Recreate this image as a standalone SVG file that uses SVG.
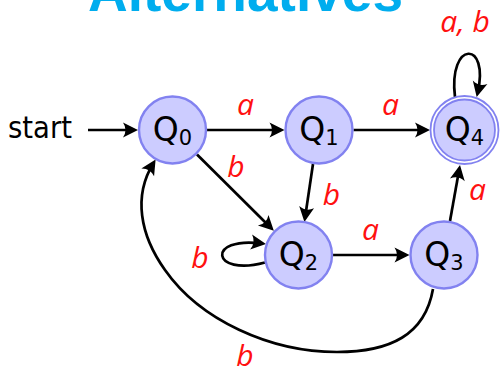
<svg xmlns="http://www.w3.org/2000/svg" width="502" height="372" viewBox="0 0 502 372">
<defs>
<style>
.node{fill:#ccccff;stroke:#8282f0;stroke-width:2.4}
.ring{fill:#ffffff;stroke:#8282f0;stroke-width:1.8}
.inner{fill:#ccccff;stroke:#8282f0;stroke-width:1.8}
.qt{font-family:"DejaVu Sans",sans-serif;font-size:33px;fill:#000;text-anchor:middle}
.sub{font-size:21px}
.edge{fill:none;stroke:#000;stroke-width:2.7}
.lbl{font-family:"Open Sans","DejaVu Sans",sans-serif;font-style:italic;font-size:30px;fill:#ff1010;text-anchor:middle}
</style>
<marker id="arr" markerUnits="userSpaceOnUse" markerWidth="24" markerHeight="24" viewBox="-14 -10 24 20" refX="0" refY="0" orient="auto">
<path d="M4,0 L-11,-7.5 Q-6,0 -11,7.5 Z" fill="#000"/>
</marker>
</defs>
<rect width="502" height="372" fill="#ffffff"/>
<text x="245.5" y="10.5" font-family="Liberation Sans, Arial, sans-serif" font-weight="bold" font-size="55" fill="#00adee" text-anchor="middle" textLength="315" lengthAdjust="spacingAndGlyphs">Alternatives</text>
<g id="connectors">
<path class="edge" d="M88,130 H134" marker-end="url(#arr)"/>
<path class="edge" d="M207,130 H280.5" marker-end="url(#arr)"/>
<path class="edge" d="M353.5,130 H426" marker-end="url(#arr)"/>
<path class="edge" d="M197,154.5 L271,228" marker-end="url(#arr)"/>
<path class="edge" d="M313,164 L305,218" marker-end="url(#arr)"/>
<path class="edge" d="M333,255 H405.5" marker-end="url(#arr)"/>
<path class="edge" d="M450,221 L459.3,169" marker-end="url(#arr)"/>
<path class="edge" d="M455,97 C448,40 490,40 477.6,93" marker-end="url(#arr)"/>
<path class="edge" d="M265,262.5 C211,277 206,236 262,243.5" marker-end="url(#arr)"/>
<path class="edge" d="M433,289 C425,335 390,352 337,352 C270,352 200,320 165,270 C140,235 133,196 153.5,163" marker-end="url(#arr)"/>
<text class="lbl" x="245.5" y="115">a</text>
<text class="lbl" x="390.5" y="115">a</text>
<text class="lbl" x="236" y="177">b</text>
<text class="lbl" x="331.5" y="205">b</text>
<text class="lbl" x="200" y="268">b</text>
<text class="lbl" x="370.5" y="240">a</text>
<text class="lbl" x="477.5" y="200">a</text>
<text class="lbl" x="245" y="366">b</text>
<text class="lbl" x="465" y="32">a, b</text>
</g>
<text x="8" y="138" font-family="DejaVu Sans, sans-serif" font-size="31" fill="#000" textLength="64" lengthAdjust="spacingAndGlyphs">start</text>
<g id="Q0"><circle class="node" cx="172.5" cy="130" r="33.5"/><text class="qt" x="172.5" y="141">Q<tspan class="sub" dy="3.5">0</tspan></text></g>
<g id="Q1"><circle class="node" cx="319" cy="130" r="33.5"/><text class="qt" x="319" y="141">Q<tspan class="sub" dy="3.5">1</tspan></text></g>
<g id="Q4"><circle class="ring" cx="464.5" cy="130" r="34"/><circle class="inner" cx="464.5" cy="130" r="30.5"/><text class="qt" x="464.5" y="141">Q<tspan class="sub" dy="3.5">4</tspan></text></g>
<g id="Q2"><circle class="node" cx="298.5" cy="255" r="33.5"/><text class="qt" x="298.5" y="266">Q<tspan class="sub" dy="3.5">2</tspan></text></g>
<g id="Q3"><circle class="node" cx="444" cy="255" r="33.5"/><text class="qt" x="444" y="266">Q<tspan class="sub" dy="3.5">3</tspan></text></g>
</svg>
